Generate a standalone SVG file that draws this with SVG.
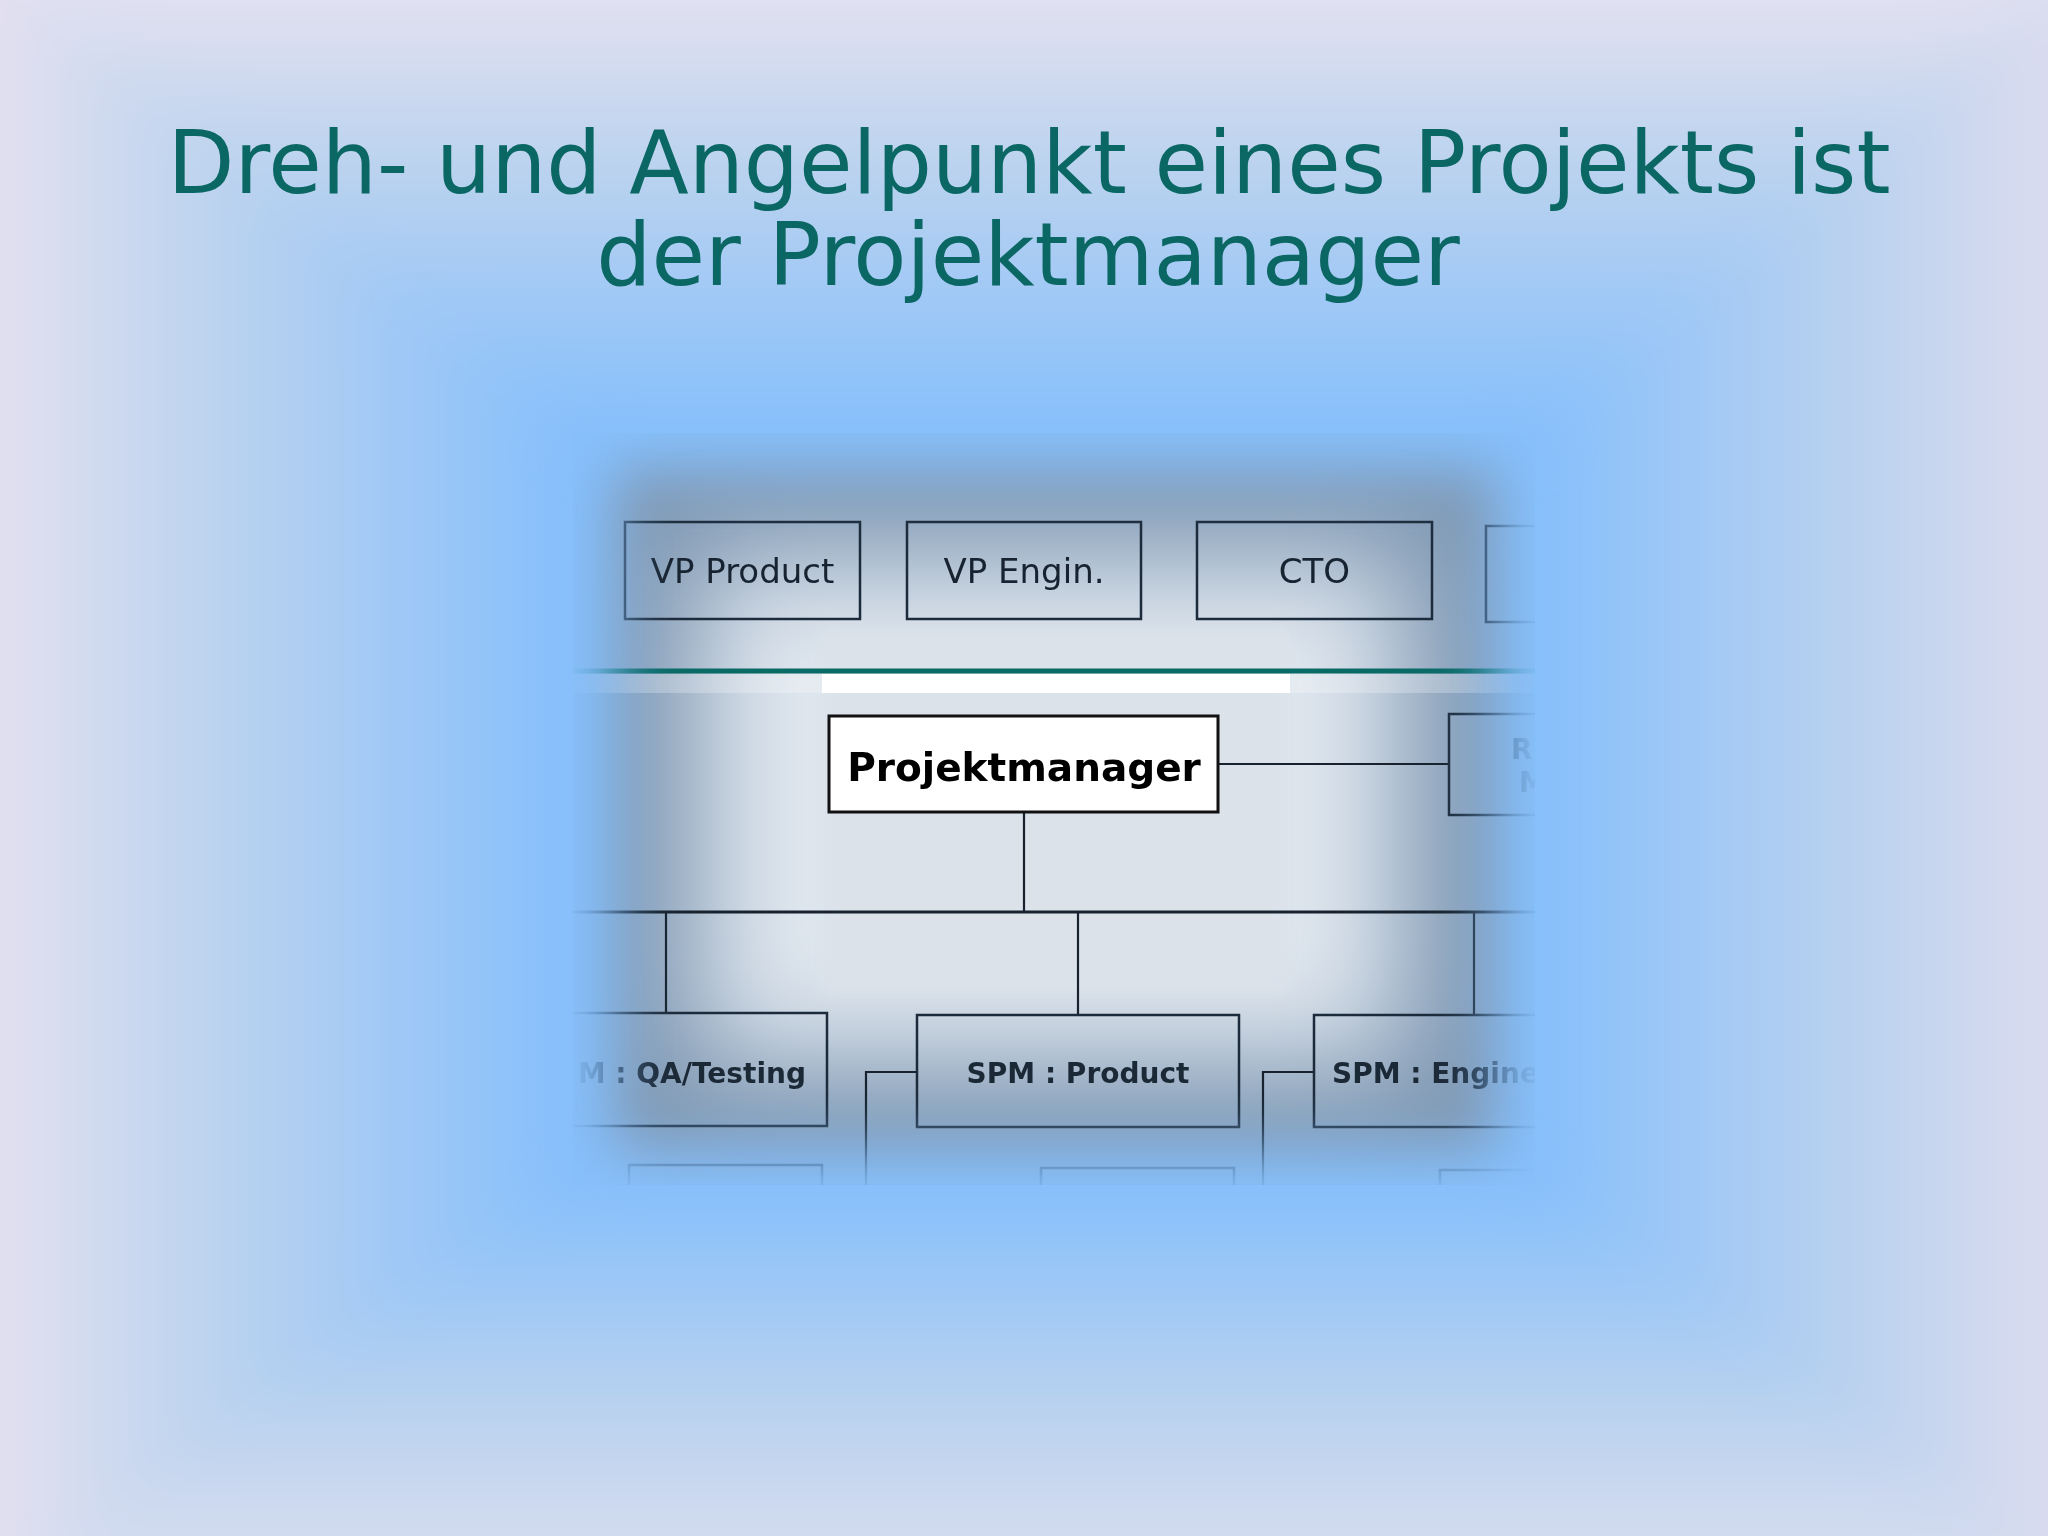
<svg xmlns="http://www.w3.org/2000/svg" width="2048" height="1536" viewBox="0 0 2048 1536">
<defs>
  <style>
    .title{font-family:"DejaVu Sans","Liberation Sans",sans-serif;font-size:87px;fill:#0b6763;text-anchor:middle}
    .box{fill:none;stroke:#1c2b3b;stroke-width:2.5}
    .pm{fill:#ffffff;stroke:#111111;stroke-width:3}
    .conn{fill:none;stroke:#17222e;stroke-width:2.2}
    .lbl{font-family:"DejaVu Sans","Liberation Sans",sans-serif;font-size:34px;fill:#172330;text-anchor:middle}
    .blbl{font-family:"DejaVu Sans","Liberation Sans",sans-serif;font-size:28px;font-weight:bold;fill:#1b2836}
    .pmlbl{font-family:"DejaVu Sans","Liberation Sans",sans-serif;font-size:39px;font-weight:bold;fill:#000000;text-anchor:middle}
  </style>
  <linearGradient id="gTop" gradientUnits="userSpaceOnUse" x1="0" y1="433" x2="0" y2="0">
    <stop offset="0" stop-color="#85bffb"/>
    <stop offset="0.3" stop-color="#9fc8f6"/>
    <stop offset="0.6" stop-color="#b9d2ef"/>
    <stop offset="0.85" stop-color="#d2dbef"/>
    <stop offset="1" stop-color="#e2e1f1"/>
  </linearGradient>
  <linearGradient id="gBot" gradientUnits="userSpaceOnUse" x1="0" y1="1185" x2="0" y2="1536">
    <stop offset="0" stop-color="#85bffb"/>
    <stop offset="0.3" stop-color="#9ec8f6"/>
    <stop offset="0.6" stop-color="#b6d1ef"/>
    <stop offset="0.85" stop-color="#c9d7ef"/>
    <stop offset="1" stop-color="#d3dcf0"/>
  </linearGradient>
  <linearGradient id="gLeft" gradientUnits="userSpaceOnUse" x1="573" y1="0" x2="0" y2="0">
    <stop offset="0" stop-color="#85bffb"/>
    <stop offset="0.3" stop-color="#9fc8f6"/>
    <stop offset="0.6" stop-color="#b9d2ef"/>
    <stop offset="0.85" stop-color="#d2dbef"/>
    <stop offset="1" stop-color="#e3e0f1"/>
  </linearGradient>
  <linearGradient id="gRight" gradientUnits="userSpaceOnUse" x1="1535" y1="0" x2="2048" y2="0">
    <stop offset="0" stop-color="#85bffb"/>
    <stop offset="0.3" stop-color="#9fc8f6"/>
    <stop offset="0.6" stop-color="#b8d1ef"/>
    <stop offset="0.85" stop-color="#cdd8ef"/>
    <stop offset="1" stop-color="#dadcef"/>
  </linearGradient>
  <filter id="fbg" filterUnits="userSpaceOnUse" x="-200" y="-200" width="2448" height="1936"><feGaussianBlur stdDeviation="30"/></filter>
  <filter id="fb28" x="-20%" y="-20%" width="140%" height="140%"><feGaussianBlur stdDeviation="28"/></filter>
  <filter id="fb55" x="-40%" y="-40%" width="180%" height="180%"><feGaussianBlur stdDeviation="55"/></filter>
  <filter id="fb6" x="-10%" y="-10%" width="120%" height="120%"><feGaussianBlur stdDeviation="6"/></filter>
  <mask id="fade" maskUnits="userSpaceOnUse" x="0" y="0" width="2048" height="1536">
    <rect x="615" y="470" width="880" height="680" fill="#ffffff" filter="url(#fb28)"/>
  </mask>
  <clipPath id="imgClip"><rect x="573" y="433" width="962" height="752"/></clipPath>
</defs>

<!-- background rectangular gradient -->
<g id="background">
  <rect x="0" y="0" width="2048" height="1536" fill="#85bffb"/>
  <g filter="url(#fbg)">
    <polygon points="-200,-200 2248,-200 1535,433 573,433" fill="url(#gTop)"/>
    <polygon points="573,1185 1535,1185 2248,1736 -200,1736" fill="url(#gBot)"/>
    <polygon points="-200,-200 573,433 573,1185 -200,1736" fill="url(#gLeft)"/>
    <polygon points="2248,-200 2248,1736 1535,1185 1535,433" fill="url(#gRight)"/>
  </g>
</g>

<g id="title">
  <text class="title" x="1029" y="193">Dreh- und Angelpunkt eines Projekts ist</text>
  <text class="title" x="1028" y="285">der Projektmanager</text>
</g>

<g id="orgchart" clip-path="url(#imgClip)">
  <g mask="url(#fade)">
    <g id="image-backdrop">
      <rect x="573" y="433" width="962" height="752" fill="#7f98b3"/>
      <rect x="700" y="560" width="700" height="500" fill="#dfe6ee" filter="url(#fb55)"/>
      <rect x="822" y="630" width="468" height="363" fill="#dbe2ea" opacity="0.85" filter="url(#fb6)"/>
      <rect x="573" y="674" width="962" height="19" fill="#ffffff" opacity="0.25"/>
      <rect x="822" y="674" width="468" height="19" fill="#ffffff"/>
      <line x1="573" y1="671" x2="1535" y2="671" stroke="#0a6a66" stroke-width="5"/>
    </g>

    <g id="connectors">
      <line class="conn" x1="1218" y1="764" x2="1449" y2="764"/>
      <line class="conn" x1="1024" y1="812" x2="1024" y2="912"/>
      <line class="conn" x1="573" y1="912" x2="1535" y2="912" style="stroke-width:3"/>
      <line class="conn" x1="666" y1="912" x2="666" y2="1013"/>
      <line class="conn" x1="1078" y1="912" x2="1078" y2="1015"/>
      <line class="conn" x1="1474" y1="912" x2="1474" y2="1015"/>
      <polyline class="conn" points="917,1072 866,1072 866,1190"/>
      <polyline class="conn" points="1314,1072 1263,1072 1263,1190"/>
    </g>

    <g id="node-vp-product">
      <rect class="box" x="625" y="522" width="235" height="97"/>
      <text class="lbl" x="742.5" y="583">VP Product</text>
    </g>
    <g id="node-vp-engin">
      <rect class="box" x="907" y="522" width="234" height="97"/>
      <text class="lbl" x="1024" y="583">VP Engin.</text>
    </g>
    <g id="node-cto">
      <rect class="box" x="1197" y="522" width="235" height="97"/>
      <text class="lbl" x="1314.5" y="583">CTO</text>
    </g>
    <g id="node-top-4">
      <rect class="box" x="1486" y="526" width="235" height="96"/>
    </g>

    <g id="node-projektmanager">
      <rect class="pm" x="829" y="716" width="389" height="96"/>
      <text class="pmlbl" x="1024" y="781">Projektmanager</text>
    </g>
    <g id="node-rm">
      <rect class="box" x="1449" y="714" width="260" height="101"/>
      <text class="blbl" x="1511" y="759">R</text>
      <text class="blbl" x="1519" y="792">M</text>
    </g>

    <g id="node-qa">
      <rect class="box" x="420" y="1013" width="407" height="113"/>
      <text class="blbl" x="806" y="1083" text-anchor="end">M : QA/Testing</text>
    </g>
    <g id="node-spm-product">
      <rect class="box" x="917" y="1015" width="322" height="112"/>
      <text class="blbl" x="1078" y="1083" text-anchor="middle">SPM : Product</text>
    </g>
    <g id="node-spm-engine">
      <rect class="box" x="1314" y="1015" width="330" height="112"/>
      <text class="blbl" x="1332" y="1083">SPM : Engine</text>
    </g>

    <g id="node-bottom-1"><rect class="box" x="629" y="1165" width="193" height="90"/></g>
    <g id="node-bottom-2"><rect class="box" x="1041" y="1168" width="193" height="90"/></g>
    <g id="node-bottom-3"><rect class="box" x="1440" y="1170" width="193" height="90"/></g>
  </g>
</g>
</svg>
